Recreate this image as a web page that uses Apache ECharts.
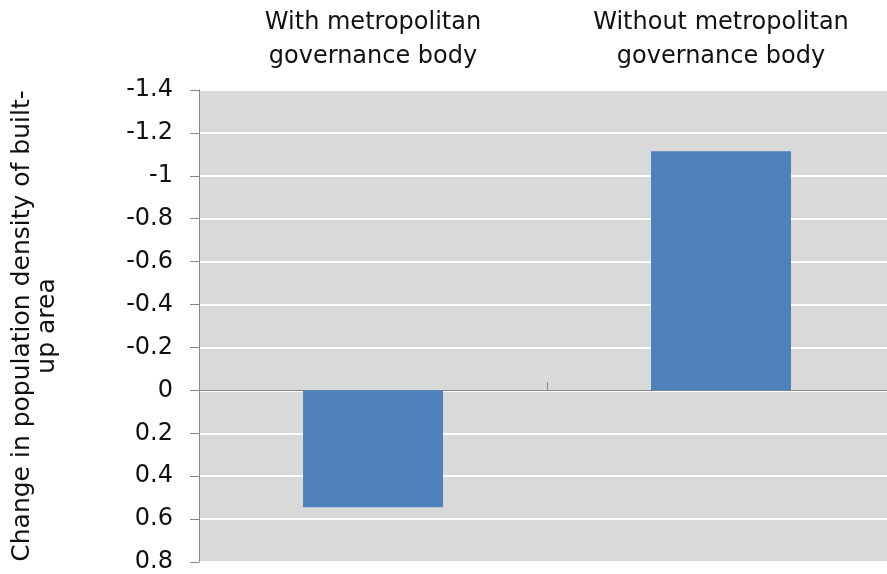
<!DOCTYPE html>
<html>
<head>
<meta charset="utf-8">
<script src="https://cdn.jsdelivr.net/npm/echarts@6/dist/echarts.min.js"></script>
<style>
html,body{margin:0;padding:0;background:#fff;overflow:hidden;width:887px;height:574px;}
#c{width:895px;height:574px;}
</style>
</head>
<body>
<div id="c"></div>
<script>
var categories = ["With metropolitan\ngovernance body", "Without metropolitan\ngovernance body"];
var values = [0.545, -1.115];
var yMin = -1.4, yMax = 0.8, yStep = 0.2;
var yName = "Change in population density of built-\nup area";

var FONT = "DejaVu Sans";
var chart = echarts.init(document.getElementById('c'), null, {renderer: 'canvas'});
chart.setOption({
  animation: false,
  backgroundColor: '#ffffff',
  grid: {left: 199, right: 0, top: 90, bottom: 12, show: true, backgroundColor: '#d9d9d9', borderWidth: 0},
  xAxis: [{
    type: 'category', data: categories, position: 'top',
    axisLine: {show: false, onZero: false}, axisTick: {show: false},
    axisLabel: {fontFamily: FONT, fontSize: 24, color: '#111111', lineHeight: 34, margin: 16}
  }, {
    type: 'category', data: categories, position: 'bottom',
    axisLine: {show: true, onZero: true, lineStyle: {color: '#868686', width: 1}},
    axisTick: {show: true, inside: true, length: 8, lineStyle: {color: '#868686'}},
    axisLabel: {show: false}
  }],
  yAxis: {
    type: 'value', inverse: true, min: yMin, max: yMax, interval: yStep,
    name: yName, nameLocation: 'middle', nameRotate: 90, nameGap: 139,
    nameTextStyle: {fontFamily: FONT, fontSize: 25, color: '#111111', lineHeight: 25},
    axisLine: {show: true, lineStyle: {color: '#868686'}},
    axisTick: {show: true, length: 9, lineStyle: {color: '#868686'}},
    splitLine: {show: true, lineStyle: {color: '#ffffff', width: 2}},
    axisLabel: {fontFamily: FONT, fontSize: 24, color: '#111111', margin: 26,
      formatter: function(v){ return String(parseFloat(v.toFixed(1))); }}
  },
  series: [{
    type: 'bar', data: values, xAxisIndex: 0, barWidth: 140,
    itemStyle: {color: '#4f81bd'}
  }]
});
</script>
</body>
</html>
